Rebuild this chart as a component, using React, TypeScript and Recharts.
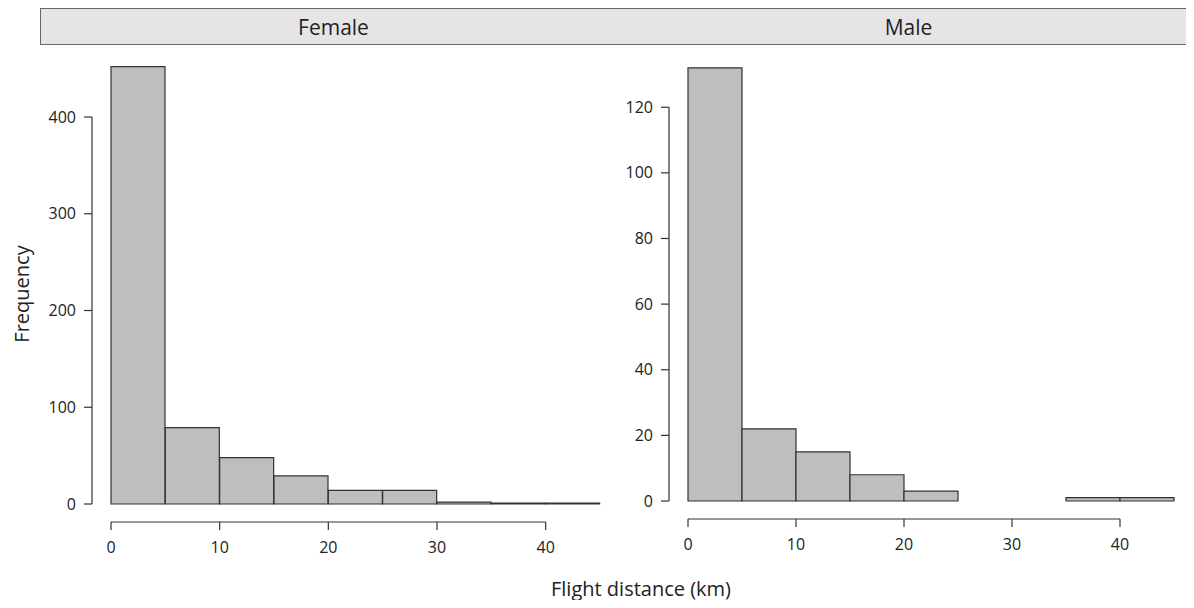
import React from 'react';
import { BarChart, Bar, XAxis, YAxis } from 'recharts';

// histogram bins (km), 5 km wide
const binStarts = [0, 5, 10, 15, 20, 25, 30, 35, 40];
const binWidth = 5;
const xTicks = [0, 10, 20, 30, 40];

// counts per bin
const femaleCounts = [452, 79, 48, 29, 14, 14, 2, 1, 1];
const maleCounts = [132, 22, 15, 8, 3, 0, 0, 1, 1];

const femaleYTicks = [0, 100, 200, 300, 400];
const maleYTicks = [0, 20, 40, 60, 80, 100, 120];

const FONT = '"Open Sans", "Noto Sans", sans-serif';
const INK = '#333';

interface PanelProps {
  counts: number[];
  yTicks: number[];
  yMax: number;
  left: number;
  width: number;
  height: number;
  marginRight: number;
  yAxisWidth: number;
  xAxisHeight: number;
}

function Panel({ counts, yTicks, yMax, left, width, height, marginRight, yAxisWidth, xAxisHeight }: PanelProps) {
  const marginTop = 13;
  const plotWidth = width - yAxisWidth - marginRight;
  const plotHeight = height - marginTop - xAxisHeight;
  const bandWidth = plotWidth / binStarts.length;
  const pxPerY = plotHeight / yMax;
  const lastX = xTicks[xTicks.length - 1];
  const lastY = yTicks[yTicks.length - 1];

  const data = binStarts.map((s, i) => ({ bin: `${s}-${s + binWidth}`, start: s, count: counts[i] }));

  const XTick = (props: any) => {
    const { x, y, index } = props;
    const start = binStarts[index];
    const edge = x - bandWidth / 2;
    const axisY = y + 18;
    return (
      <g>
        {index === 0 && (
          <line x1={edge} x2={edge + (lastX / binWidth) * bandWidth} y1={axisY} y2={axisY} stroke={INK} strokeWidth={1.2} />
        )}
        {xTicks.includes(start) && (
          <>
            <line x1={edge} x2={edge} y1={axisY} y2={axisY + 8} stroke={INK} strokeWidth={1.2} />
            <text x={edge} y={axisY + 31} textAnchor="middle" fontSize={16} fontFamily={FONT} fill="#222">
              {start}
            </text>
          </>
        )}
      </g>
    );
  };

  const YTick = (props: any) => {
    const { x, y, index, payload } = props;
    const axisX = x - 19;
    return (
      <g>
        {index === 0 && (
          <line x1={axisX} x2={axisX} y1={y} y2={y - lastY * pxPerY} stroke={INK} strokeWidth={1.2} />
        )}
        <line x1={axisX - 8} x2={axisX} y1={y} y2={y} stroke={INK} strokeWidth={1.2} />
        <text x={axisX - 16} y={y + 5.5} textAnchor="end" fontSize={16} fontFamily={FONT} fill="#222">
          {payload.value}
        </text>
      </g>
    );
  };

  return (
    <div style={{ position: 'absolute', left, top: 45 }}>
      <BarChart
        width={width}
        height={height}
        data={data}
        margin={{ top: marginTop, right: marginRight, left: 0, bottom: 0 }}
        barCategoryGap={0}
        barGap={0}
      >
        <XAxis
          dataKey="bin"
          type="category"
          height={xAxisHeight}
          interval={0}
          axisLine={false}
          tickLine={false}
          tickSize={0}
          tickMargin={0}
          tick={(p: any) => <XTick {...p} />}
        />
        <YAxis
          type="number"
          domain={[0, yMax]}
          ticks={yTicks}
          width={yAxisWidth}
          interval={0}
          axisLine={false}
          tickLine={false}
          tickSize={0}
          tickMargin={0}
          tick={(p: any) => <YTick {...p} />}
        />
        <Bar dataKey="count" fill="#bebebe" stroke="#333" strokeWidth={1.2} isAnimationActive={false} />
      </BarChart>
    </div>
  );
}

const stripStyle: React.CSSProperties = {
  position: 'absolute',
  top: 8,
  height: 35,
  background: '#e5e5e5',
  border: '1px solid #666',
  display: 'flex',
  alignItems: 'center',
  justifyContent: 'center',
  fontFamily: FONT,
  fontSize: 21,
  color: '#222',
  boxSizing: 'content-box',
};

export default function App() {
  return (
    <div style={{ margin: -8, width: 1194, height: 608, position: 'relative', background: '#fff', overflow: 'hidden' }}>
      <div style={{ ...stripStyle, left: 40, width: 585 }}>Female</div>
      <div style={{ ...stripStyle, left: 626, width: 565, borderLeft: 'none' }}>Male</div>

      <Panel
        counts={femaleCounts}
        yTicks={femaleYTicks}
        yMax={461}
        left={40}
        width={586}
        height={563}
        marginRight={26}
        yAxisWidth={71}
        xAxisHeight={104}
      />
      <Panel
        counts={maleCounts}
        yTicks={maleYTicks}
        yMax={135}
        left={626}
        width={561}
        height={563}
        marginRight={13}
        yAxisWidth={62}
        xAxisHeight={107}
      />

      <div
        style={{
          position: 'absolute',
          left: 21,
          top: 294,
          transform: 'translate(-50%, -50%) rotate(-90deg)',
          fontFamily: FONT,
          fontSize: 20,
          color: '#222',
          whiteSpace: 'nowrap',
        }}
      >
        Frequency
      </div>
      <div
        style={{
          position: 'absolute',
          left: 641,
          top: 588,
          transform: 'translate(-50%, -50%)',
          fontFamily: FONT,
          fontSize: 20,
          color: '#222',
          whiteSpace: 'nowrap',
        }}
      >
        Flight distance (km)
      </div>
    </div>
  );
}
